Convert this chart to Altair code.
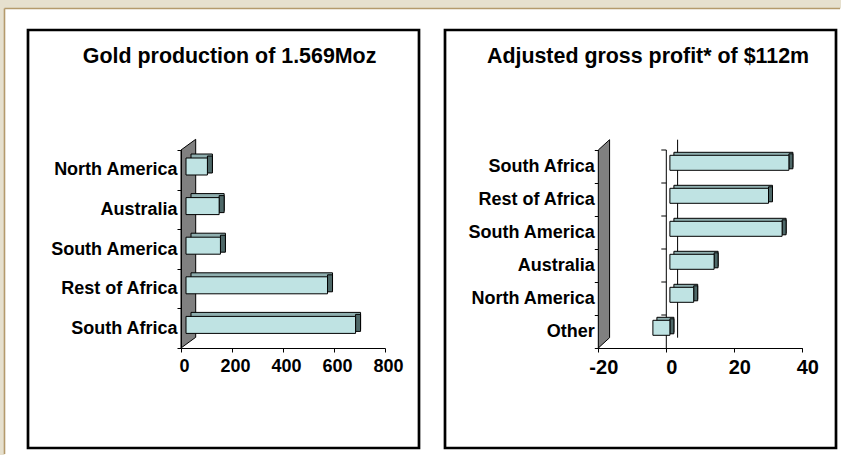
import altair as alt
import pandas as pd

FONT = "Liberation Sans"

# Gold production by region (koz)
gold_regions = ["North America", "Australia", "South America", "Rest of Africa", "South Africa"]
gold_values = [84, 130, 135, 555, 665]
gold_ticks = [0, 200, 400, 600, 800]
gold_title = "Gold production of 1.569Moz"

# Adjusted gross profit by region ($m)
profit_regions = ["South Africa", "Rest of Africa", "South America", "Australia", "North America", "Other"]
profit_values = [35, 29, 33, 13, 7, -5]
profit_ticks = [-20, 0, 20, 40]
profit_title = "Adjusted gross profit* of $112m"

# panel geometry (pixels inside each framed panel)
PANEL_W, PANEL_H = 391, 418
BAND_Y = [120, 318]

FRONT = "#bfe3e3"
TOP = "#8fafaf"
SIDE = "#4e6868"
WALL = "#808080"
BEIGE = "#e6e0ce"
TAN = "#b49a6c"

# plain hyphen for negative tick labels
LABEL_EXPR = "datum.value < 0 ? '-' + abs(datum.value) : '' + datum.value"


def one_row():
    return pd.DataFrame({"k": [0]})


def panel(title, regions, values, ticks, x_range, tick_font, label_dx,
          bar_h, bar_dy, shift, dx, dy, wall_units, wall_rise, title_xy,
          axis_z, zero_line=False, backdrop=False):
    df = pd.DataFrame({"region": regions, "value": values})
    xs = alt.Scale(domain=[ticks[0], ticks[-1]], range=x_range, nice=False, zero=False)
    xaxis = alt.Axis(values=ticks, title=None, grid=False, domainColor="black",
                     tickColor="black", tickSize=4, labelFont=FONT, labelFontSize=tick_font,
                     labelFontWeight="bold", labelColor="black", labelOffset=label_dx,
                     labelFlush=False, labelExpr=LABEL_EXPR,
                     labelPadding=5, offset=BAND_Y[1] - PANEL_H, zindex=axis_z)
    ys = alt.Scale(domain=regions, range=BAND_Y, paddingInner=0, paddingOuter=0)
    yaxis = alt.Axis(title=None, tickBand="extent", domainColor="black", tickColor="black",
                     tickSize=4, labelFont=FONT, labelFontSize=18, labelFontWeight="bold",
                     labelColor="black", labelPadding=0, offset=-x_range[0], zindex=axis_z)

    base = alt.Chart(df).transform_calculate(right="max(datum.value, 0)")
    Y = lambda ax: alt.Y("region:N", scale=ys, axis=ax, sort=regions)

    layers = []
    if backdrop:
        layers.append(alt.Chart(one_row()).mark_rect(fill=BEIGE).encode(
            x=alt.value(-28), x2=alt.value(813), y=alt.value(-30), y2=alt.value(425)))
        layers.append(alt.Chart(one_row()).mark_rect(fill="white").encode(
            x=alt.value(-23.5), x2=alt.value(813), y=alt.value(-21.5), y2=alt.value(425)))
        layers.append(alt.Chart(one_row()).mark_rule(color=TAN, strokeWidth=1.6).encode(
            x=alt.value(-23.5), x2=alt.value(812), y=alt.value(-21.5)))
        layers.append(alt.Chart(one_row()).mark_rule(color=TAN, strokeWidth=1.6).encode(
            x=alt.value(-23.5), y=alt.value(-21.5), y2=alt.value(424)))

    # grey side wall of the 3-D plot
    wall = pd.DataFrame({"wx": [ticks[0], ticks[0] + wall_units],
                         "top": [BAND_Y[0], BAND_Y[0] - wall_rise],
                         "bot": [BAND_Y[1], BAND_Y[1] - wall_rise]})
    layers.append(alt.Chart(wall).mark_area(orient="vertical", fill=WALL, stroke="black",
                                            strokeWidth=1).encode(
        x=alt.X("wx:Q", scale=xs, axis=xaxis),
        y=alt.Y("top:Q", scale=alt.Scale(domain=[0, PANEL_H], range=[0, PANEL_H],
                                         zero=False, nice=False), axis=None),
        y2="bot:Q"))

    if zero_line:
        # back edge of the zero plane
        layers.append(alt.Chart(one_row()).mark_rule(color="black", strokeWidth=1,
                                                     xOffset=wall_rise + 1).encode(
            x=alt.XDatum(0, scale=xs, axis=xaxis),
            y=alt.value(BAND_Y[0] - wall_rise), y2=alt.value(BAND_Y[1] - wall_rise)))
        # front zero line with category ticks
        layers.append(alt.Chart(one_row()).mark_rule(color="black", strokeWidth=1).encode(
            x=alt.XDatum(0, scale=xs, axis=xaxis),
            y=alt.value(BAND_Y[0]), y2=alt.value(BAND_Y[1])))
        layers.append(base.mark_rule(color="black", strokeWidth=1, x2Offset=-5).encode(
            x=alt.XDatum(0, scale=xs, axis=xaxis), x2=alt.datum(0),
            y=alt.Y("region:N", scale=ys, axis=None, sort=regions, bandPosition=0)))

    # top face of each bar
    layers.append(base.mark_bar(height=bar_h, xOffset=shift + dx, x2Offset=shift + dx,
                                yOffset=bar_dy - dy, fill=TOP, stroke="black",
                                strokeWidth=1).encode(
        x=alt.X("value:Q", scale=xs, axis=xaxis), x2=alt.datum(0), y=Y(None)))
    # right-hand side face
    layers.append(base.mark_bar(height=bar_h, xOffset=shift, x2Offset=shift + dx,
                                yOffset=bar_dy - dy / 2, fill=SIDE, stroke="black",
                                strokeWidth=1).encode(
        x=alt.X("right:Q", scale=xs, axis=xaxis), x2=alt.X2("right"), y=Y(None)))
    # front face
    layers.append(base.mark_bar(height=bar_h, xOffset=shift, x2Offset=shift, yOffset=bar_dy,
                                fill=FRONT, stroke="black", strokeWidth=1).encode(
        x=alt.X("value:Q", scale=xs, axis=xaxis), x2=alt.datum(0), y=Y(yaxis)))

    layers.append(alt.Chart(pd.DataFrame({"t": [title]})).mark_text(
        font=FONT, fontSize=21.4, fontWeight="bold", color="black", align="center",
        baseline="middle").encode(x=alt.value(title_xy[0]), y=alt.value(title_xy[1]), text="t:N"))

    layers.append(alt.Chart(one_row()).mark_rect(fillOpacity=0, stroke="black",
                                                 strokeWidth=2.7).encode(
        x=alt.value(0), x2=alt.value(PANEL_W), y=alt.value(0), y2=alt.value(PANEL_H)))

    return alt.layer(*layers).resolve_scale(y="independent").properties(
        width=PANEL_W, height=PANEL_H)


left = panel(gold_title, gold_regions, gold_values, gold_ticks, [153, 357], 18, 3,
             17, -3.3, 5, 5, 4, 57.6, 10.7, (201.6, 27), 1, backdrop=True)
right = panel(profit_title, profit_regions, profit_values, profit_ticks, [153.3, 357.3], 20, 5,
              15, -3.7, 3.6, 4, 3, 3.32, 10.3, (203, 27), 0, zero_line=True)

chart = alt.hconcat(left, right, spacing=26, bounds="flush").properties(
    padding=0, autosize=alt.AutoSizeParams(type="pad"), background=BEIGE
).configure_view(strokeWidth=0)

chart.save("out.html", embed_options={"renderer": "svg", "actions": False})
